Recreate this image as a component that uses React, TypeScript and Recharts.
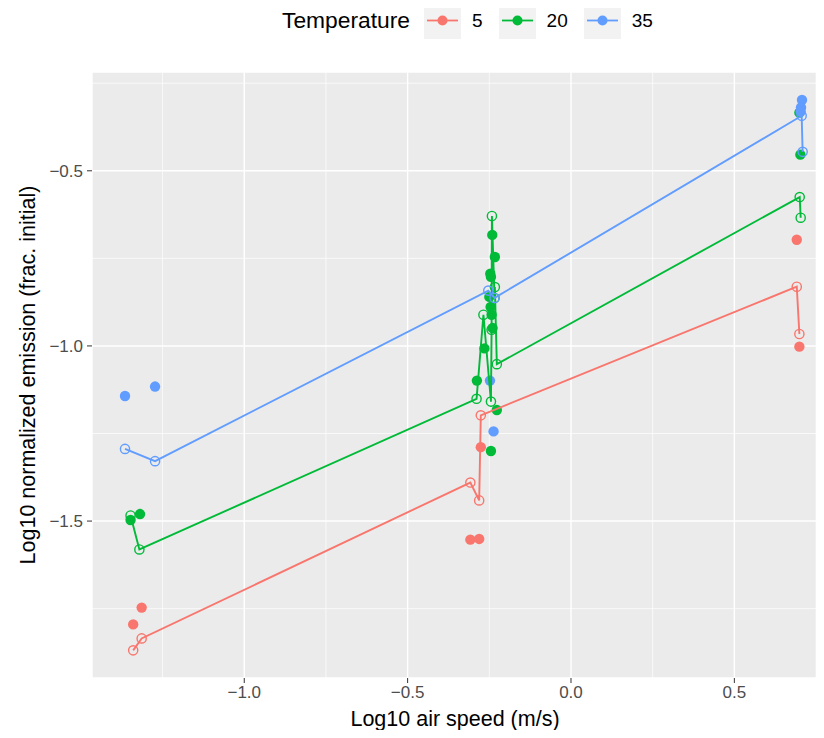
import {
  ScatterChart,
  Scatter,
  XAxis,
  YAxis,
  CartesianGrid,
  ReferenceLine,
  Label,
} from "recharts";

const temperatures = ["5", "20", "35"];
const colors = ["#F8766D", "#00BA38", "#619CFF"];

// model fits (open circles, joined by lines)
const t5ModelSpeed = [-1.34, -1.314, -0.308, -0.281, -0.276, 0.691, 0.699];
const t5ModelEmission = [-1.869, -1.835, -1.39, -1.441, -1.198, -0.831, -0.966];
const t20ModelSpeed = [-1.348, -1.321, -0.289, -0.268, -0.245, -0.243, -0.242, -0.234, -0.233, -0.227, 0.7, 0.703];
const t20ModelEmission = [-1.484, -1.581, -1.151, -0.911, -1.159, -0.954, -0.629, -0.863, -0.832, -1.052, -0.575, -0.634];
const t35ModelSpeed = [-1.365, -1.273, -0.253, -0.234, 0.706, 0.709];
const t35ModelEmission = [-1.294, -1.329, -0.842, -0.863, -0.343, -0.446];

// measurements (filled circles)
const t5ObsSpeed = [-1.34, -1.314, -0.308, -0.281, -0.276, 0.691, 0.699];
const t5ObsEmission = [-1.795, -1.747, -1.553, -1.551, -1.289, -0.697, -1.002];
const t20ObsSpeed = [-1.348, -1.319, -0.288, -0.265, -0.25, -0.247, -0.246, -0.245, -0.243, -0.241, -0.24, -0.233, -0.227, -0.245, 0.699, 0.702];
const t20ObsEmission = [-1.497, -1.48, -1.099, -1.007, -0.86, -0.794, -0.889, -0.803, -0.911, -0.683, -0.949, -0.746, -1.183, -1.3, -0.334, -0.454];
const t35ObsSpeed = [-1.365, -1.273, -0.248, -0.237, 0.707, 0.704, 0.703];
const t35ObsEmission = [-1.143, -1.116, -1.099, -1.244, -0.298, -0.319, -0.331];

const xTicks = [-1, -0.5, 0, 0.5];
const yTicks = [-1.5, -1, -0.5];
const xMinor = [-1.25, -0.75, -0.25, 0.25, 0.75];
const yMinor = [-1.75, -1.25, -0.75, -0.25];

const toRows = (xs: number[], ys: number[]) =>
  xs.map((x, i) => ({ speed: x, emission: ys[i] }));

const modelData = [
  toRows(t5ModelSpeed, t5ModelEmission),
  toRows(t20ModelSpeed, t20ModelEmission),
  toRows(t35ModelSpeed, t35ModelEmission),
];
const obsData = [
  toRows(t5ObsSpeed, t5ObsEmission),
  toRows(t20ObsSpeed, t20ObsEmission),
  toRows(t35ObsSpeed, t35ObsEmission),
];

const FONT = "'Liberation Sans', Arial, Helvetica, sans-serif";
const fmt = (v: number) => {
  const s = Math.abs(v).toFixed(1);
  return v < 0 ? "\u2212" + s : s;
};

const Legend = () => (
  <div
    style={{
      position: "absolute",
      left: 282,
      top: 2,
      display: "flex",
      alignItems: "center",
      fontFamily: FONT,
      color: "#000",
    }}
  >
    <span style={{ fontSize: 22.8, marginRight: 14 }}>Temperature</span>
    {temperatures.map((t, i) => (
      <div key={t} style={{ display: "flex", alignItems: "center" }}>
        <svg width={37} height={37} style={{ background: "#F2F2F2" }}>
          <line x1={3} x2={34} y1={18.5} y2={18.5} stroke={colors[i]} strokeWidth={1.8} />
          <circle cx={18.5} cy={18.5} r={5} fill={colors[i]} />
        </svg>
        <span style={{ fontSize: 19, marginLeft: 11, marginRight: 16 }}>{t}</span>
      </div>
    ))}
  </div>
);

export default function App() {
  return (
    <div style={{ position: "relative", width: 824, height: 738, margin: -8, background: "#fff" }}>
      <ScatterChart
        width={824}
        height={738}
        margin={{ top: 72, right: 6, bottom: 0, left: 0 }}
        style={{ fontFamily: FONT }}
      >
        <CartesianGrid fill="#EBEBEB" stroke="#FFFFFF" strokeWidth={1.4} />
        {xMinor.map((v) => (
          <ReferenceLine key={"x" + v} x={v} stroke="#FFFFFF" strokeWidth={0.7} />
        ))}
        {yMinor.map((v) => (
          <ReferenceLine key={"y" + v} y={v} stroke="#FFFFFF" strokeWidth={0.7} />
        ))}
        <XAxis
          type="number"
          dataKey="speed"
          domain={[-1.466, 0.756]}
          allowDataOverflow
          ticks={xTicks}
          tickFormatter={fmt}
          height={60}
          axisLine={false}
          tickSize={5}
          tickMargin={3}
          tickLine={{ stroke: "#333333", strokeWidth: 1 }}
          tick={{ fill: "#4D4D4D", fontSize: 17 }}
        >
          <Label
            content={({ viewBox }: any) => (
              <text
                x={viewBox.x + viewBox.width / 2}
                y={viewBox.y + 48}
                textAnchor="middle"
                fontSize={21.5}
                fill="#000"
              >
                Log10 air speed (m/s)
              </text>
            )}
          />
        </XAxis>
        <YAxis
          type="number"
          dataKey="emission"
          domain={[-1.948, -0.218]}
          allowDataOverflow
          ticks={yTicks}
          tickFormatter={fmt}
          width={92}
          axisLine={false}
          tickSize={5}
          tickMargin={4}
          tickLine={{ stroke: "#333333", strokeWidth: 1 }}
          tick={{ fill: "#4D4D4D", fontSize: 17 }}
        >
          <Label
            content={({ viewBox }: any) => {
              const cx = 35;
              const cy = viewBox.y + viewBox.height / 2;
              return (
                <text
                  x={cx}
                  y={cy}
                  transform={`rotate(-90, ${cx}, ${cy})`}
                  textAnchor="middle"
                  fontSize={21.5}
                  fill="#000"
                >
                  Log10 normalized emission (frac. initial)
                </text>
              );
            }}
          />
        </YAxis>
        {obsData.map((d, i) => (
          <Scatter
            key={"obs" + i}
            data={d}
            isAnimationActive={false}
            shape={(p: any) => <circle cx={p.cx} cy={p.cy} r={5.2} fill={colors[i]} />}
          />
        ))}
        {modelData.map((d, i) => (
          <Scatter
            key={"line" + i}
            data={d}
            isAnimationActive={false}
            fill={colors[i]}
            line={{ stroke: colors[i], strokeWidth: 1.9 }}
            shape={() => <g />}
          />
        ))}
        {modelData.map((d, i) => (
          <Scatter
            key={"mod" + i}
            data={d}
            isAnimationActive={false}
            shape={(p: any) => (
              <circle cx={p.cx} cy={p.cy} r={4.6} fill="none" stroke={colors[i]} strokeWidth={1.4} />
            )}
          />
        ))}
      </ScatterChart>
      <Legend />
    </div>
  );
}
